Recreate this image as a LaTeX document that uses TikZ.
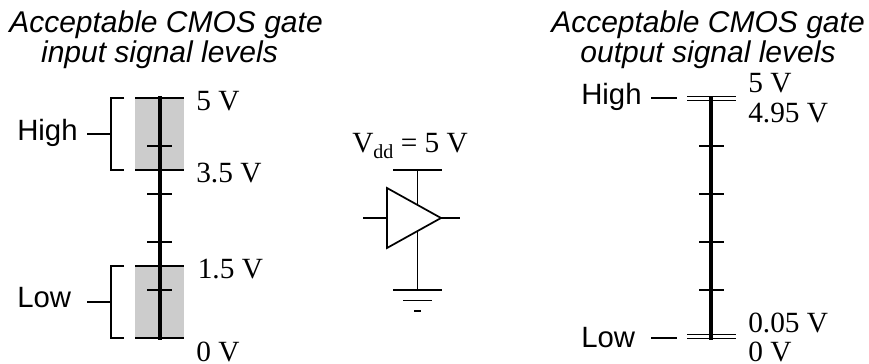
\documentclass[tikz,border=0pt]{standalone}
\usepackage{fontspec}
\setmainfont{Liberation Serif}
\setsansfont{Liberation Sans}
\usetikzlibrary{calc, positioning}
\definecolor{band}{HTML}{CCCCCC}
\tikzset{
  wire/.style={line width=1.1pt, black},
  rail/.style={line width=3pt, black},
  titel/.style={font=\fontsize{22.5}{23.5}\selectfont\sffamily\itshape, align=center, anchor=base, inner sep=0pt},
  pegel/.style={font=\fontsize{22}{24}\selectfont\sffamily, anchor=base west, inner sep=0pt},
  volt/.style={font=\fontsize{22}{24}\selectfont, anchor=base west, inner sep=0pt}
}
\begin{document}
\begin{tikzpicture}[x=0.75pt, y=-0.75pt]
  \useasboundingbox (0,0) rectangle (869,364);

  % --- EINGANG: Balken mit Bereichen ---
  \fill[band] (135,98) rectangle (184,170);
  \fill[band] (135,266) rectangle (184,338);

  \coordinate (intop) at (159.5,96);
  \coordinate (inbottom) at (159.5,340);
  \draw[rail] (intop) -- (inbottom);

  % Striche
  \foreach \y in {98,170,266,338}
    \draw[wire] (135,\y) -- (184,\y);
  \foreach \y in {146,194,242,290}
    \draw[wire] (147,\y) -- (172,\y);

  % Klammern
  \draw[wire] (124,98) -- (111,98) -- (111,170) -- (124,170);
  \draw[wire] (124,266) -- (111,266) -- (111,338) -- (124,338);
  \coordinate (inhighstub) at (87,134);
  \coordinate (inhighend) at (111,134);
  \coordinate (inlowstub) at (87,302);
  \coordinate (inlowend) at (111,302);
  \draw[wire] (inhighstub) -- (inhighend);
  \draw[wire] (inlowstub) -- (inlowend);

  \node[titel] (intitleA) at (166,32) {Acceptable CMOS gate};
  \node[titel] (intitleB) at (159.5,62) {input signal levels};
  \node[pegel] (inhigh) at (17,140) {High};
  \node[pegel] (inlow) at (17,307) {Low};
  \node[volt] (infive) at (196,110) {5 V};
  \node[volt] (inthreefive) at (196,182) {3.5 V};
  \node[volt] (inonefive) at (197.5,278) {1.5 V};
  \node[volt] (inzero) at (196,361) {0 V};

  % --- GATTER ---
  \coordinate (gatea) at (387,188);
  \coordinate (gateb) at (441,218);
  \coordinate (gatec) at (387,248);
  \coordinate (gatein) at (387,218);
  \coordinate (gatetop) at (417.5,205);
  \coordinate (gatebot) at (417.5,231);
  \coordinate (vdd) at (417.5,170);
  \coordinate (gnd) at (417.5,290);
  \coordinate (instub) at (363,218);
  \coordinate (outstub) at (460,218);

  \draw[wire, line width=1.3pt, line join=miter] (gatea) -- (gateb) -- (gatec) -- cycle;
  \draw[wire] (instub) -- (gatein);
  \draw[wire] (gateb) -- (outstub);
  \draw[wire] (vdd) -- (gatetop);
  \draw[wire] (gatebot) -- (gnd);
  \draw[wire] (393,170) -- (442,170);

  % Masse
  \draw[wire] (393,290) -- (442,290);
  \draw[wire] (403,300.5) -- (432,300.5);
  \draw[wire] (414,311) -- (421,311);

  \node[volt] (vddlabel) at (352,152) {V\raisebox{-0.5ex}{\fontsize{15}{15}\selectfont dd} = 5 V};

  % --- AUSGANG ---
  \coordinate (outtop) at (711,96);
  \coordinate (outbottom) at (711,340);
  \draw[rail] (outtop) -- (outbottom);

  \foreach \y in {96.5,100.5,334.5,338.5}
    \draw[line width=1pt] (687,\y) -- (736,\y);
  \foreach \y in {146,194,242,290}
    \draw[wire] (699,\y) -- (724,\y);

  \coordinate (outhighstub) at (651,98);
  \coordinate (outhighend) at (677,98);
  \coordinate (outlowstub) at (651,338);
  \coordinate (outlowend) at (677,338);
  \draw[wire] (outhighstub) -- (outhighend);
  \draw[wire] (outlowstub) -- (outlowend);

  \node[titel] (outtitleA) at (708,32) {Acceptable CMOS gate};
  \node[titel] (outtitleB) at (708,62) {output signal levels};
  \node[pegel] (outhigh) at (581,104) {High};
  \node[pegel] (outlow) at (581,347) {Low};
  \node[volt] (outfive) at (748,92) {5 V};
  \node[volt] (outfourninetyfive) at (748,122) {4.95 V};
  \node[volt] (outzerofive) at (748,332) {0.05 V};
  \node[volt] (outzero) at (748,361) {0 V};
\end{tikzpicture}
\end{document}
